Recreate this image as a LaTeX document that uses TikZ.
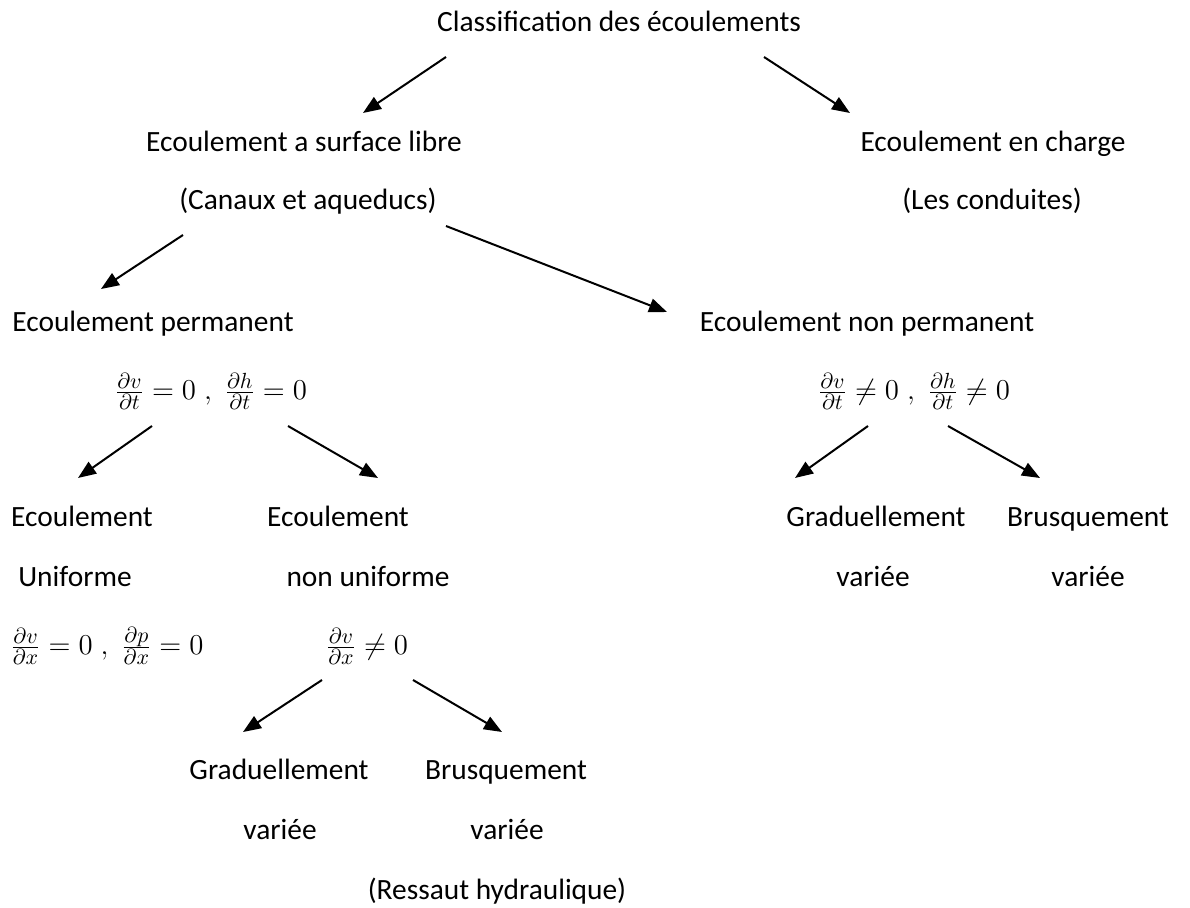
\documentclass[tikz,border=0pt]{standalone}
\usepackage{fontspec}
\setmainfont{Carlito}
\usetikzlibrary{arrows.meta}
\begin{document}
\begin{tikzpicture}[
    x=0.5pt, y=-0.5pt, % one unit = one pixel of the page
    > = {Triangle[length=9pt,width=7pt]}, % filled arrow head
    every node/.style={font=\fontsize{14.7}{17}\selectfont, anchor=base, inner sep=0pt}
  ]

  \tikzstyle{eq}=[font=\fontsize{15.7}{19}\selectfont]
  \tikzstyle{link}=[->, line width=1pt]

  \useasboundingbox (0,0) rectangle (1190,908);

  % text of the tree
  \node (root) at (619,32) {Classification des écoulements};
  \node (libre) at (304,152) {Ecoulement a surface libre};
  \node (libre2) at (308,210) {(Canaux et aqueducs)};
  \node (charge) at (993,152) {Ecoulement en charge};
  \node (charge2) at (992,210) {(Les conduites)};
  \node (perm) at (153,332) {Ecoulement permanent};
  \node (nonperm) at (867,332) {Ecoulement non permanent};
  \node[eq] (permeq) at (211,400) {$\frac{\partial v}{\partial t}=0\;,\;\frac{\partial h}{\partial t}=0$};
  \node[eq] (nonpermeq) at (914,400) {$\frac{\partial v}{\partial t}\neq0\;,\;\frac{\partial h}{\partial t}\neq0$};
  \node (ecl) at (82,527) {Ecoulement};
  \node (ecm) at (338,527) {Ecoulement};
  \node (unif) at (75,587) {Uniforme};
  \node (nonunif) at (368,587) {non uniforme};
  \node (grad1) at (876,527) {Graduellement};
  \node (brus1) at (1088,527) {Brusquement};
  \node (var1) at (873,587) {variée};
  \node (var2) at (1088,587) {variée};
  \node[eq] (unifeq) at (107,655) {$\frac{\partial v}{\partial x}=0\;,\;\frac{\partial p}{\partial x}=0$};
  \node[eq] (nonunifeq) at (367,655) {$\frac{\partial v}{\partial x}\neq0$};
  \node (grad2) at (279,780) {Graduellement};
  \node (brus2) at (506,780) {Brusquement};
  \node (var3) at (280,840) {variée};
  \node (var4) at (507,840) {variée};
  \node (ressaut) at (497,900) {(Ressaut hydraulique)};

  % arrow ends
  \coordinate (root-l) at (446,57);
  \coordinate (libre-t) at (363,113);
  \coordinate (root-r) at (764,57);
  \coordinate (charge-t) at (850,113);
  \coordinate (libre-l) at (183,235);
  \coordinate (perm-t) at (101,289);
  \coordinate (libre-r) at (446,226);
  \coordinate (nonperm-t) at (667,312);
  \coordinate (permeq-l) at (152,426);
  \coordinate (ecl-t) at (78,478);
  \coordinate (permeq-r) at (288,426);
  \coordinate (ecm-t) at (378,478);
  \coordinate (nonpermeq-l) at (868,426);
  \coordinate (grad1-t) at (795,478);
  \coordinate (nonpermeq-r) at (948,426);
  \coordinate (brus1-t) at (1040,478);
  \coordinate (nonunifeq-l) at (322,680);
  \coordinate (grad2-t) at (243,732);
  \coordinate (nonunifeq-r) at (413,680);
  \coordinate (brus2-t) at (502,732);

  \draw[link] (root-l) -- (libre-t);
  \draw[link] (root-r) -- (charge-t);
  \draw[link] (libre-l) -- (perm-t);
  \draw[link] (libre-r) -- (nonperm-t);
  \draw[link] (permeq-l) -- (ecl-t);
  \draw[link] (permeq-r) -- (ecm-t);
  \draw[link] (nonpermeq-l) -- (grad1-t);
  \draw[link] (nonpermeq-r) -- (brus1-t);
  \draw[link] (nonunifeq-l) -- (grad2-t);
  \draw[link] (nonunifeq-r) -- (brus2-t);

\end{tikzpicture}
\end{document}
